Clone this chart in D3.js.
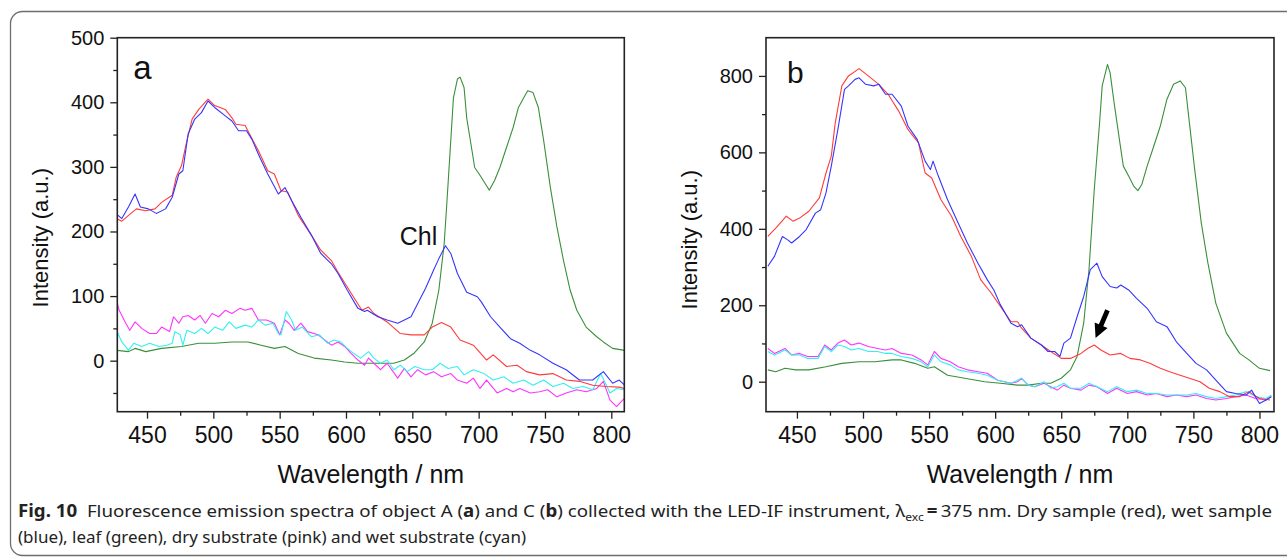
<!DOCTYPE html>
<html>
<head>
<meta charset="utf-8">
<script src="https://cdn.jsdelivr.net/npm/d3@7"></script>
<style>
  body { margin: 0; background: #fff; }
  svg { display: block; }
  .chart text { font-family: "Liberation Sans", Arial, sans-serif; fill: #111; }
  .caption text { font-family: "Noto Sans", "Open Sans", sans-serif; fill: #222; }
</style>
</head>
<body>
<div id="chart"></div>
<script>
// ---- data: [wavelength nm, intensity a.u.] ----
// panel a (object A)
const aDry = [[427,220],[431,216],[439,230],[442,235],[449,232],[456,235],[461,245],[469,256],[472,284],[476,302],[480,340],[484,374],[489,389],[496,405],[501,395],[509,389],[514,376],[517,366],[524,364],[526,356],[534,325],[541,294],[546,289],[551,263],[556,261],[564,225],[574,194],[581,171],[589,155],[594,137],[604,104],[612,78],[617,83],[621,73],[631,60],[641,42],[649,40],[659,40],[665,52],[672,59],[679,52],[686,32],[696,24],[706,1],[711,9],[721,-9],[729,-7],[736,-17],[746,-22],[756,-20],[766,-30],[776,-32],[786,-38],[796,-40],[806,-41],[810,-43]];
const aWet = [[427,227],[431,220],[436,238],[441,258],[445,238],[451,235],[457,228],[464,235],[469,253],[474,289],[477,294],[481,351],[486,374],[491,384],[496,402],[501,392],[509,379],[514,371],[519,356],[525,356],[529,343],[535,315],[541,289],[549,258],[554,268],[559,248],[566,222],[574,194],[581,166],[589,150],[594,135],[601,109],[609,81],[614,76],[616,78],[624,68],[631,63],[639,58],[644,63],[649,68],[654,88],[660,112],[666,140],[670,158],[675,178],[679,166],[684,135],[691,106],[699,99],[702,91],[709,68],[716,52],[724,34],[731,27],[739,16],[746,9],[756,-4],[766,-14],[776,-30],[786,-30],[794,-17],[801,-35],[806,-30],[810,-38]];
const aLeaf = [[427,16],[436,14],[441,19],[449,14],[461,19],[476,22],[489,27],[501,27],[514,29],[526,29],[536,24],[546,19],[554,22],[564,11],[576,4],[589,1],[599,-2],[609,-4],[619,-4],[626,-4],[636,-4],[644,1],[651,11],[659,29],[665,58],[670,109],[674,181],[676,243],[679,341],[681,407],[684,436],[686,439],[689,423],[691,376],[695,325],[697,299],[701,287],[705,274],[708,264],[712,279],[716,299],[721,330],[726,361],[730,392],[734,407],[737,418],[741,415],[745,392],[749,341],[754,269],[759,207],[764,155],[769,109],[774,78],[781,52],[789,37],[794,29],[801,19],[810,16]];
const aDrySub = [[427,94],[429,78],[434,58],[437,47],[441,60],[446,50],[452,42],[457,42],[461,52],[467,45],[470,68],[474,58],[477,68],[481,70],[486,63],[490,70],[494,58],[499,73],[504,68],[509,78],[514,73],[520,81],[524,78],[529,81],[534,63],[540,63],[546,58],[550,40],[554,63],[557,58],[561,47],[566,58],[571,45],[579,40],[584,32],[589,24],[594,29],[599,22],[604,11],[609,1],[614,-7],[617,4],[621,-4],[626,-14],[631,-4],[639,-27],[644,-12],[649,-25],[654,-14],[660,-22],[666,-17],[672,-25],[679,-20],[684,-30],[691,-35],[696,-27],[701,-43],[706,-30],[714,-50],[721,-43],[726,-48],[731,-43],[739,-50],[746,-48],[752,-45],[759,-56],[766,-50],[774,-45],[781,-48],[789,-43],[794,-32],[799,-61],[804,-71],[810,-58]];
const aWetSub = [[427,47],[431,29],[436,16],[440,27],[446,22],[452,27],[459,22],[465,24],[469,27],[471,45],[475,40],[477,24],[480,47],[486,42],[491,50],[496,42],[501,52],[507,47],[512,60],[517,50],[524,55],[529,52],[534,63],[539,55],[545,58],[549,42],[551,40],[555,76],[559,63],[562,47],[567,52],[574,37],[580,40],[586,27],[591,32],[596,29],[601,19],[606,11],[611,4],[617,14],[621,4],[626,-4],[631,1],[636,-14],[641,-7],[646,-17],[652,-9],[659,-14],[665,-14],[671,-4],[677,-12],[684,-9],[689,-22],[696,-14],[704,-20],[711,-30],[719,-25],[726,-35],[734,-30],[741,-38],[749,-30],[756,-40],[764,-35],[771,-43],[779,-40],[786,-45],[792,-20],[799,-50],[804,-43],[810,-45]];

// panel b (object C)
const bDry = [[428,380],[434,402],[442,433],[447,420],[452,428],[459,446],[467,481],[472,546],[476,590],[479,677],[484,774],[489,800],[497,819],[504,800],[512,778],[519,752],[527,708],[534,660],[542,625],[547,546],[552,533],[559,476],[567,433],[574,380],[582,328],[589,267],[597,232],[604,197],[612,157],[617,157],[620,140],[627,114],[635,96],[642,79],[650,61],[657,61],[665,74],[670,87],[675,96],[680,83],[687,70],[695,74],[702,61],[710,57],[717,48],[725,35],[732,26],[740,17],[747,9],[755,0],[762,-17],[770,-26],[777,-39],[785,-39],[792,-26],[800,-44],[808,-48]];
const bWet = [[428,302],[433,328],[439,380],[443,371],[446,363],[452,380],[457,398],[464,441],[468,450],[472,494],[476,564],[481,660],[486,765],[489,774],[494,791],[497,795],[502,778],[508,774],[512,778],[517,752],[522,752],[529,721],[534,669],[541,634],[547,577],[551,555],[553,577],[557,538],[564,476],[572,415],[579,363],[587,310],[594,267],[599,240],[604,201],[612,153],[617,144],[620,149],[627,114],[635,96],[640,79],[645,79],[649,66],[652,101],[657,114],[662,170],[667,223],[672,293],[677,310],[681,275],[687,249],[692,245],[695,253],[701,240],[707,218],[715,192],[722,157],[730,144],[737,105],[745,74],[752,48],[760,31],[767,4],[775,-26],[782,-31],[790,-35],[794,-22],[800,-57],[805,-48],[809,-39]];
const bLeaf = [[428,31],[434,26],[441,35],[449,31],[459,31],[472,39],[484,48],[497,52],[509,52],[522,57],[529,57],[539,48],[549,35],[554,39],[564,17],[577,9],[592,0],[604,-4],[617,-9],[625,-9],[635,-4],[642,-4],[650,9],[657,31],[662,66],[667,153],[671,293],[675,503],[679,677],[681,774],[685,830],[687,808],[690,730],[694,634],[697,564],[701,538],[705,511],[708,500],[711,516],[715,564],[720,616],[725,669],[730,739],[735,778],[740,787],[744,769],[747,677],[751,555],[756,415],[761,310],[767,205],[775,127],[785,74],[792,57],[800,35],[808,29]];
const bDrySub = [[428,87],[433,74],[441,87],[446,70],[452,74],[458,66],[466,66],[471,96],[476,83],[481,101],[486,109],[491,96],[497,101],[504,92],[511,87],[517,83],[522,87],[529,74],[537,70],[544,57],[549,44],[554,79],[559,61],[566,52],[572,39],[579,31],[587,26],[594,22],[602,4],[612,-4],[617,0],[620,9],[625,-9],[630,-13],[637,-4],[642,-13],[647,-22],[652,-9],[657,-17],[665,-22],[671,-9],[677,-13],[685,-31],[692,-17],[700,-31],[707,-26],[715,-35],[722,-31],[730,-39],[737,-35],[745,-39],[752,-35],[760,-44],[767,-48],[775,-44],[782,-39],[790,-35],[797,-44],[805,-48],[809,-39]];
const bWetSub = [[428,79],[433,70],[441,83],[446,70],[452,70],[458,61],[466,61],[471,92],[476,79],[481,96],[486,92],[491,83],[497,87],[504,79],[511,79],[517,74],[522,74],[529,66],[537,61],[544,52],[549,39],[554,70],[559,52],[566,44],[572,31],[579,26],[587,22],[594,17],[602,4],[612,-4],[617,4],[620,9],[625,-9],[630,-13],[637,0],[642,-17],[647,-13],[652,-4],[657,-17],[665,-17],[671,-4],[677,-13],[685,-26],[692,-13],[700,-26],[707,-22],[715,-31],[722,-31],[730,-35],[737,-35],[745,-35],[752,-31],[760,-39],[767,-44],[775,-39],[782,-35],[790,-26],[797,-39],[805,-44],[809,-35]];

// tick values
const xMajor = [450, 500, 550, 600, 650, 700, 750, 800];
const xMinor = [475, 525, 575, 625, 675, 725, 775];
const yMajorA = [0, 100, 200, 300, 400, 500];
const yMinorA = [-50, 50, 150, 250, 350, 450];
const yMajorB = [0, 200, 400, 600, 800];
const yMinorB = [100, 300, 500, 700];

const colors = { dry: "#ff3b3b", wet: "#3535ff", leaf: "#3a8f3a", drySub: "#ff33ff", wetSub: "#33f0f0" };

const W = 1287, H = 558;
const svg = d3.select("#chart").append("svg")
    .attr("width", W).attr("height", H)
    .attr("class", "chart");

// outer figure frame (rounded, runs off the right edge)
svg.append("rect")
    .attr("x", 10.5).attr("y", 11.5)
    .attr("width", 1300).attr("height", 544)
    .attr("rx", 12)
    .attr("fill", "none")
    .attr("stroke", "#6e6e6e")
    .attr("stroke-width", 1.3);

const plotH = 374;

function drawPanel(opts) {
    const g = svg.append("g").attr("transform", `translate(${opts.left},${opts.top})`);
    const x = d3.scaleLinear().domain(opts.xDomain).range([0, opts.width]);
    const y = d3.scaleLinear().domain(opts.yDomain).range([plotH, 0]);

    g.append("clipPath").attr("id", "clip-" + opts.id)
        .append("rect").attr("width", opts.width).attr("height", plotH);

    // x axis: major + minor ticks
    const xa = g.append("g").attr("transform", `translate(0,${plotH})`)
        .call(d3.axisBottom(x).tickValues(xMajor).tickSize(7).tickPadding(8).tickSizeOuter(0));
    g.append("g").attr("transform", `translate(0,${plotH})`)
        .call(d3.axisBottom(x).tickValues(xMinor).tickSize(4).tickFormat("").tickSizeOuter(0));
    // y axis
    g.append("g")
        .call(d3.axisLeft(y).tickValues(opts.yMajor).tickSize(7).tickPadding(6).tickSizeOuter(0));
    g.append("g")
        .call(d3.axisLeft(y).tickValues(opts.yMinor).tickSize(4).tickFormat("").tickSizeOuter(0));

    g.selectAll(".domain").remove();
    g.selectAll(".tick line").attr("stroke", "#222").attr("stroke-width", 1.3);
    xa.selectAll("text").style("font-size", "23px").attr("fill", "#111");
    g.selectAll("g:nth-of-type(3) .tick text").style("font-size", "20px");

    // spectra
    const line = d3.line().x(d => x(d[0])).y(d => y(d[1]));
    const lines = g.append("g").attr("clip-path", `url(#clip-${opts.id})`);
    opts.series.forEach(s => {
        lines.append("path")
            .datum(s.data)
            .attr("fill", "none")
            .attr("stroke", s.color)
            .attr("stroke-width", 1.1)
            .attr("stroke-linejoin", "round")
            .attr("d", line);
    });

    // plot frame
    g.append("rect")
        .attr("width", opts.width).attr("height", plotH)
        .attr("fill", "none")
        .attr("stroke", "#222")
        .attr("stroke-width", 1.6);

    // axis titles
    g.append("text")
        .attr("x", opts.width / 2).attr("y", 445)
        .attr("text-anchor", "middle")
        .style("font-size", "25px")
        .text("Wavelength / nm");
    g.append("text")
        .attr("transform", `translate(-69,${opts.titleY}) rotate(-90)`)
        .attr("text-anchor", "middle")
        .style("font-size", "22px")
        .text("Intensity (a.u.)");

    // panel letter
    g.append("text")
        .attr("x", opts.letterX).attr("y", opts.letterY)
        .style("font-size", opts.letterSize + "px")
        .text(opts.letter);

    return { g, x, y };
}

const pa = drawPanel({
    id: "a", left: 117.3, top: 37.7, width: 507,
    xDomain: [427.6, 809.8], yDomain: [-79, 500],
    yMajor: yMajorA, yMinor: yMinorA, titleY: 200,
    letter: "a", letterX: 16, letterY: 41, letterSize: 33,
    series: [
        { data: aLeaf, color: colors.leaf },
        { data: aDrySub, color: colors.drySub },
        { data: aWetSub, color: colors.wetSub },
        { data: aDry, color: colors.dry },
        { data: aWet, color: colors.wet }
    ]
});

const pb = drawPanel({
    id: "b", left: 766, top: 37.7, width: 508,
    xDomain: [426.6, 811], yDomain: [-78.5, 900],
    yMajor: yMajorB, yMinor: yMinorB, titleY: 202,
    letter: "b", letterX: 21, letterY: 45, letterSize: 30,
    series: [
        { data: bLeaf, color: colors.leaf },
        { data: bDrySub, color: colors.drySub },
        { data: bWetSub, color: colors.wetSub },
        { data: bDry, color: colors.dry },
        { data: bWet, color: colors.wet }
    ]
});

// y tick labels a bit smaller than x tick labels
svg.selectAll("g").filter(function () { return this.getAttribute("transform") === null; })
    .selectAll(".tick text").style("font-size", "20px");

// "Chl" label in panel a
pa.g.append("text")
    .attr("x", pa.x(640.5)).attr("y", pa.y(179))
    .style("font-size", "25px")
    .text("Chl");

// arrow pointing at the weak Chl band of the dry sample in panel b
(function () {
    const x0 = pb.x(685), y0 = pb.y(187);
    const x1 = pb.x(676), y1 = pb.y(114);
    const dx = x1 - x0, dy = y1 - y0, len = Math.hypot(dx, dy);
    const ux = dx / len, uy = dy / len, px = -uy, py = ux;
    const head = 14, hw = 7, sw = 2.4;
    const bx = x1 - ux * head, by = y1 - uy * head;
    const pts = [
        [x0 + px * sw, y0 + py * sw],
        [bx + px * sw, by + py * sw],
        [bx + px * hw, by + py * hw],
        [x1, y1],
        [bx - px * hw, by - py * hw],
        [bx - px * sw, by - py * sw],
        [x0 - px * sw, y0 - py * sw]
    ];
    pb.g.append("polygon")
        .attr("points", pts.map(p => p.join(",")).join(" "))
        .attr("fill", "#000");
})();

// caption
const cap = svg.append("g").attr("class", "caption");
const l1 = cap.append("text")
    .attr("x", 18).attr("y", 517)
    .attr("textLength", 1254).attr("lengthAdjust", "spacingAndGlyphs")
    .style("font-size", "17px");
l1.append("tspan").attr("font-weight", "bold").text("Fig. 10");
l1.append("tspan").text("\u00a0\u00a0Fluorescence emission spectra of object A (");
l1.append("tspan").attr("font-weight", "bold").text("a");
l1.append("tspan").text(") and C (");
l1.append("tspan").attr("font-weight", "bold").text("b");
l1.append("tspan").text(") collected with the LED-IF instrument, \u03bb");
l1.append("tspan").attr("dy", 4).style("font-size", "11px").text("exc");
l1.append("tspan").attr("dy", -4).attr("font-weight", "bold").text("\u2009=\u2009");
l1.append("tspan").text("375 nm. Dry sample (red), wet sample");

cap.append("text")
    .attr("x", 18).attr("y", 543)
    .attr("textLength", 508).attr("lengthAdjust", "spacingAndGlyphs")
    .style("font-size", "17px")
    .text("(blue), leaf (green), dry substrate (pink) and wet substrate (cyan)");
</script>
</body>
</html>
